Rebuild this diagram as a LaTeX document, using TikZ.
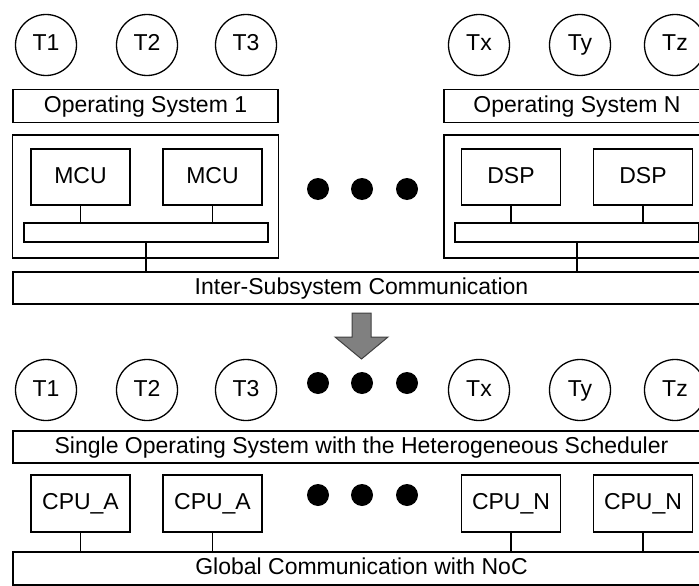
\documentclass[tikz,border=0pt]{standalone}
\usepackage{fontspec}
\setmainfont{Liberation Sans}

\begin{document}
\begin{tikzpicture}[x=1pt,y=-1pt,line width=1.3pt,
  every node/.style={text height=17pt,text depth=5pt},
  task/.style={circle,draw,minimum size=61pt,inner sep=0pt,font=\fontsize{23}{27}\selectfont},
  layer/.style={draw,minimum height=33pt,inner sep=0pt,font=\fontsize{23}{27}\selectfont},
  core/.style={draw,minimum width=99pt,minimum height=56pt,inner sep=0pt,font=\fontsize{23}{27}\selectfont},
  frame/.style={draw,minimum width=266pt,minimum height=123pt,inner sep=0pt},
  bus/.style={draw,minimum width=244pt,minimum height=19pt,inner sep=0pt,text height=0pt,text depth=0pt},
  dot/.style={circle,fill,minimum size=22pt,inner sep=0pt,text height=0pt,text depth=0pt}]
  \useasboundingbox (0,0) rectangle (699,586);
  \clip (0,0) rectangle (699,586);

  % before: one OS per subsystem
  \node[task] (t1) at (46,45) {T1};
  \node[task] (t2) at (147,45) {T2};
  \node[task] (t3) at (246,45) {T3};
  \node[task] (tx) at (479,45) {Tx};
  \node[task] (ty) at (580,45) {Ty};
  \node[task] (tz) at (675,45) {Tz};

  \node[layer,minimum width=265pt] (os1) at (145.5,106) {Operating System 1};
  \node[layer,minimum width=266pt] (osn) at (577,106) {Operating System N};

  \node[frame] (sub1) at (145.5,196.5) {}; % subsystem 1
  \node[frame] (subn) at (577,196.5) {}; % subsystem N
  \node[core] (mcu1) at (80.5,177) {MCU};
  \node[core] (mcu2) at (212.5,177) {MCU};
  \node[core] (dsp1) at (511,177) {DSP};
  \node[core] (dsp2) at (643,177) {DSP};
  \node[bus] (bus1) at (146,232.5) {};
  \node[bus] (busn) at (577,232.5) {};

  \node[dot] (d1) at (318,189) {};
  \node[dot] (d2) at (362,189) {};
  \node[dot] (d3) at (407,189) {};

  \node[layer,minimum width=697pt,minimum height=32pt] (isc) at (361.5,288) {Inter-Subsystem Communication};

  \draw (mcu1.south) -- (mcu1.south |- bus1.north);
  \draw (mcu2.south) -- (mcu2.south |- bus1.north);
  \draw (dsp1.south) -- (dsp1.south |- busn.north);
  \draw (dsp2.south) -- (dsp2.south |- busn.north);
  \draw (bus1.south) -- (bus1.south |- isc.north);
  \draw (busn.south) -- (busn.south |- isc.north);

  % block arrow
  \draw[fill=gray,draw=black!75,line width=1pt] (352,313) -- (371,313) -- (371,337) -- (388,337)
    -- (361.5,359) -- (335,337) -- (352,337) -- cycle;

  % after: single OS
  \node[task] (s1) at (46,390) {T1};
  \node[task] (s2) at (147,390) {T2};
  \node[task] (s3) at (246,390) {T3};
  \node[task] (sx) at (479,390) {Tx};
  \node[task] (sy) at (580,390) {Ty};
  \node[task] (sz) at (675,390) {Tz};
  \node[dot] (e1) at (318,383) {};
  \node[dot] (e2) at (362,383) {};
  \node[dot] (e3) at (407,383) {};

  \node[layer,minimum width=697pt,minimum height=32pt] (sos) at (361.5,447) {Single Operating System with the Heterogeneous Scheduler};

  \node[core,minimum height=57pt] (cpua1) at (80.5,503.5) {CPU\_A};
  \node[core,minimum height=57pt] (cpua2) at (212.5,503.5) {CPU\_A};
  \node[core,minimum height=57pt] (cpun1) at (511,503.5) {CPU\_N};
  \node[core,minimum height=57pt] (cpun2) at (643,503.5) {CPU\_N};
  \node[dot] (f1) at (318,495) {};
  \node[dot] (f2) at (362,495) {};
  \node[dot] (f3) at (407,495) {};

  \node[layer,minimum width=697pt] (noc) at (361.5,568.5) {Global Communication with NoC};

  \draw (cpua1.south) -- (cpua1.south |- noc.north);
  \draw (cpua2.south) -- (cpua2.south |- noc.north);
  \draw (cpun1.south) -- (cpun1.south |- noc.north);
  \draw (cpun2.south) -- (cpun2.south |- noc.north);
\end{tikzpicture}
\end{document}
